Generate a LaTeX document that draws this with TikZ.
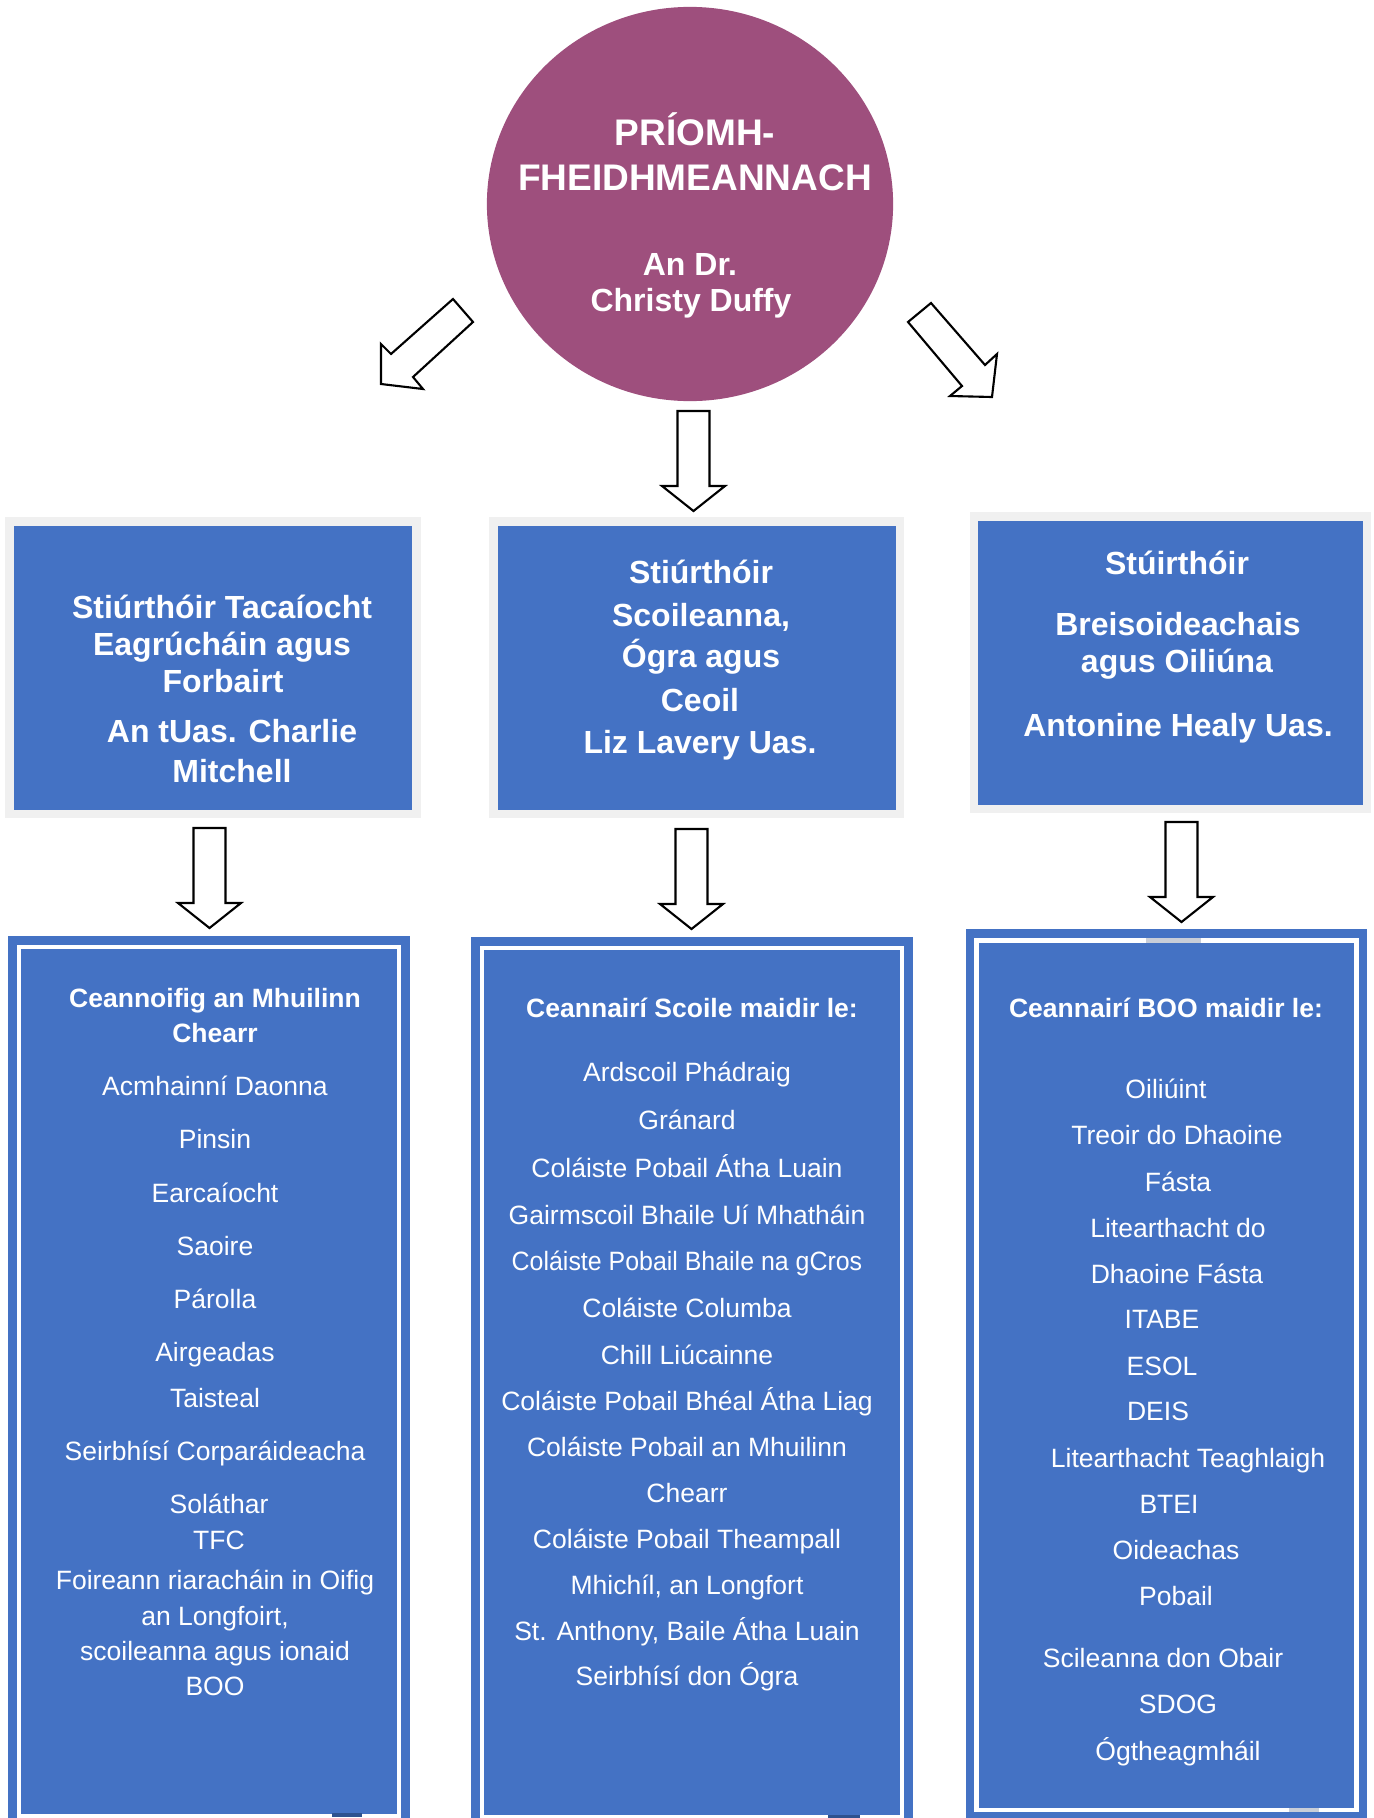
\documentclass[tikz,border=0pt]{standalone}
\usepackage{fontspec}
\setmainfont{Liberation Sans}

\definecolor{ceopurple}{HTML}{9E4F7D}
\definecolor{boxblue}{HTML}{4472C4}
\definecolor{framegray}{HTML}{F0F0F0}
\definecolor{tabnavy}{HTML}{2F528F}
\definecolor{tabgray}{HTML}{C9CED8}

\tikzset{
  blockarrow/.style={draw=black, fill=white, line width=0.6pt, line join=miter},
  itemline/.style={anchor=base, inner sep=0pt, text=white, font=\fontsize{7.54}{9}\selectfont},
  headline/.style={itemline, font=\fontsize{7.54}{9}\selectfont\bfseries},
  dirline/.style={itemline, font=\fontsize{9.1}{11}\selectfont\bfseries},
  ceoline/.style={itemline, font=\fontsize{10.53}{12}\selectfont\bfseries}
}

\begin{document}
\begin{tikzpicture}[x=0.01cm, y=-0.01cm]
    \useasboundingbox (0,0) rectangle (1374,1818);

    % chief executive
    \fill[ceopurple] (690,204) ellipse [x radius=2.03cm, y radius=1.97cm];
    \node[ceoline] (ceo1) at (695,145) {PRÍOMH-};
    \node[ceoline] (ceo2) at (695,190) {FHEIDHMEANNACH};
    \node[dirline] (ceo3) at (690,275) {An Dr.};
    \node[dirline] (ceo4) at (691,311) {Christy Duffy};

    % block arrows
    \draw[blockarrow] (453,299) -- (473,322) -- (413,377) -- (423,389) -- (381,384) -- (381,344) -- (391,354) -- cycle;
    \draw[blockarrow] (931,303) -- (985,365) -- (997,354) -- (992,397) -- (950,396) -- (962,386) -- (908,322) -- cycle;
    \foreach \ax/\ay in {693.5/411, 209.5/828, 691.5/829, 1181.5/822}
        \draw[blockarrow] ({\ax-16},\ay) -- ({\ax+16},\ay) -- ({\ax+16},{\ay+75}) -- ({\ax+31.5},{\ay+75})
            -- (\ax,{\ay+100}) -- ({\ax-31.5},{\ay+75}) -- ({\ax-16},{\ay+75}) -- cycle;

    % directors
    \fill[framegray] (5,517) rectangle (421,818);
    \fill[boxblue] (14,526) rectangle (412,810);
    \fill[framegray] (489,517) rectangle (904,818);
    \fill[boxblue] (498,526) rectangle (896,810);
    \fill[framegray] (970,512) rectangle (1371,813);
    \fill[boxblue] (978,521) rectangle (1363,805);

    \foreach \x/\y/\t [count=\i] in {222/618/{Stiúrthóir Tacaíocht}, 222/655/{Eagrúcháin agus}, 223/692/Forbairt,
        232/742/{An tUas. Charlie}, 232/782/Mitchell}
        \node[dirline] (org-\i) at (\x,\y) {\t};
    \foreach \x/\y/\t [count=\i] in {701/583/Stiúrthóir, 701/626/{Scoileanna,}, 701/667/{Ógra agus},
        700/711/Ceoil, 700/753/{Liz Lavery Uas.}}
        \node[dirline] (sch-\i) at (\x,\y) {\t};
    \foreach \x/\y/\t [count=\i] in {1177/574/Stúirthóir, 1178/635/Breisoideachais, 1177/672/{agus Oiliúna},
        1178/736/{Antonine Healy Uas.}}
        \node[dirline] (fet-\i) at (\x,\y) {\t};

    % lists
    \fill[boxblue] (8,936) rectangle (410,1818);
    \draw[white, line width=1.14pt] (19,947) rectangle (399,1816);
    \fill[tabnavy] (332,1813) rectangle (362,1817);
    \fill[boxblue] (471,937) rectangle (913,1818);
    \draw[white, line width=1.14pt] (482,948) rectangle (902,1816.5);
    \fill[tabnavy] (828,1815) rectangle (860,1818);
    \fill[boxblue] (966,929) rectangle (1367,1818);
    \draw[white, line width=1.28pt] (976.5,940.5) rectangle (1356.5,1810);
    \fill[tabgray] (1146,938) rectangle (1201,943);
    \fill[tabgray] (1289,1808) rectangle (1319,1812);

    \node[headline] (opsh1) at (215,1007) {Ceannoifig an Mhuilinn};
    \node[headline] (opsh2) at (215,1042) {Chearr};
    \foreach \x/\y/\t [count=\i] in {215/1095/{Acmhainní Daonna}, 215/1148/Pinsin, 215/1202/Earcaíocht,
        215/1255/Saoire, 215/1308/Párolla, 215/1361/Airgeadas, 215/1407/Taisteal,
        215/1460/{Seirbhísí Corparáideacha}, 219/1513/Soláthar, 219/1549/TFC,
        215/1589/{Foireann riaracháin in Oifig}, 215/1625/{an Longfoirt,},
        215/1660/{scoileanna agus ionaid}, 215/1695/BOO}
        \node[itemline] (ops-\i) at (\x,\y) {\t};

    \node[headline] (schh) at (692,1017) {Ceannairí Scoile maidir le:};
    \foreach \y/\t [count=\i] in {1081/{Ardscoil Phádraig}, 1129/Gránard, 1177/{Coláiste Pobail Átha Luain},
        1224/{Gairmscoil Bhaile Uí Mhatháin}, 1270/{\scalebox{0.94}[1]{Coláiste Pobail Bhaile na gCros}},
        1317/{Coláiste Columba}, 1364/{Chill Liúcainne}, 1410/{Coláiste Pobail Bhéal Átha Liag},
        1456/{Coláiste Pobail an Mhuilinn}, 1502/Chearr, 1548/{Coláiste Pobail Theampall},
        1594/{Mhichíl, an Longfort}, 1640/{St. Anthony, Baile Átha Luain}, 1685/{Seirbhísí don Ógra}}
        \node[itemline] (sch-l\i) at (687,\y) {\t};

    \node[headline] (feth) at (1166,1017) {Ceannairí BOO maidir le:};
    \foreach \x/\y/\t [count=\i] in {1166/1098/Oiliúint, 1177/1144/{Treoir do Dhaoine}, 1178/1191/Fásta,
        1178/1237/{Litearthacht do}, 1177/1283/{Dhaoine Fásta}, 1162/1328/ITABE, 1162/1375/ESOL,
        1158/1420/DEIS, 1188/1467/{Litearthacht Teaghlaigh}, 1169/1513/BTEI, 1176/1559/Oideachas,
        1176/1605/Pobail, 1163/1667/{Scileanna don Obair}, 1178/1713/SDOG, 1178/1760/Ógtheagmháil}
        \node[itemline] (fet-l\i) at (\x,\y) {\t};
\end{tikzpicture}
\end{document}
